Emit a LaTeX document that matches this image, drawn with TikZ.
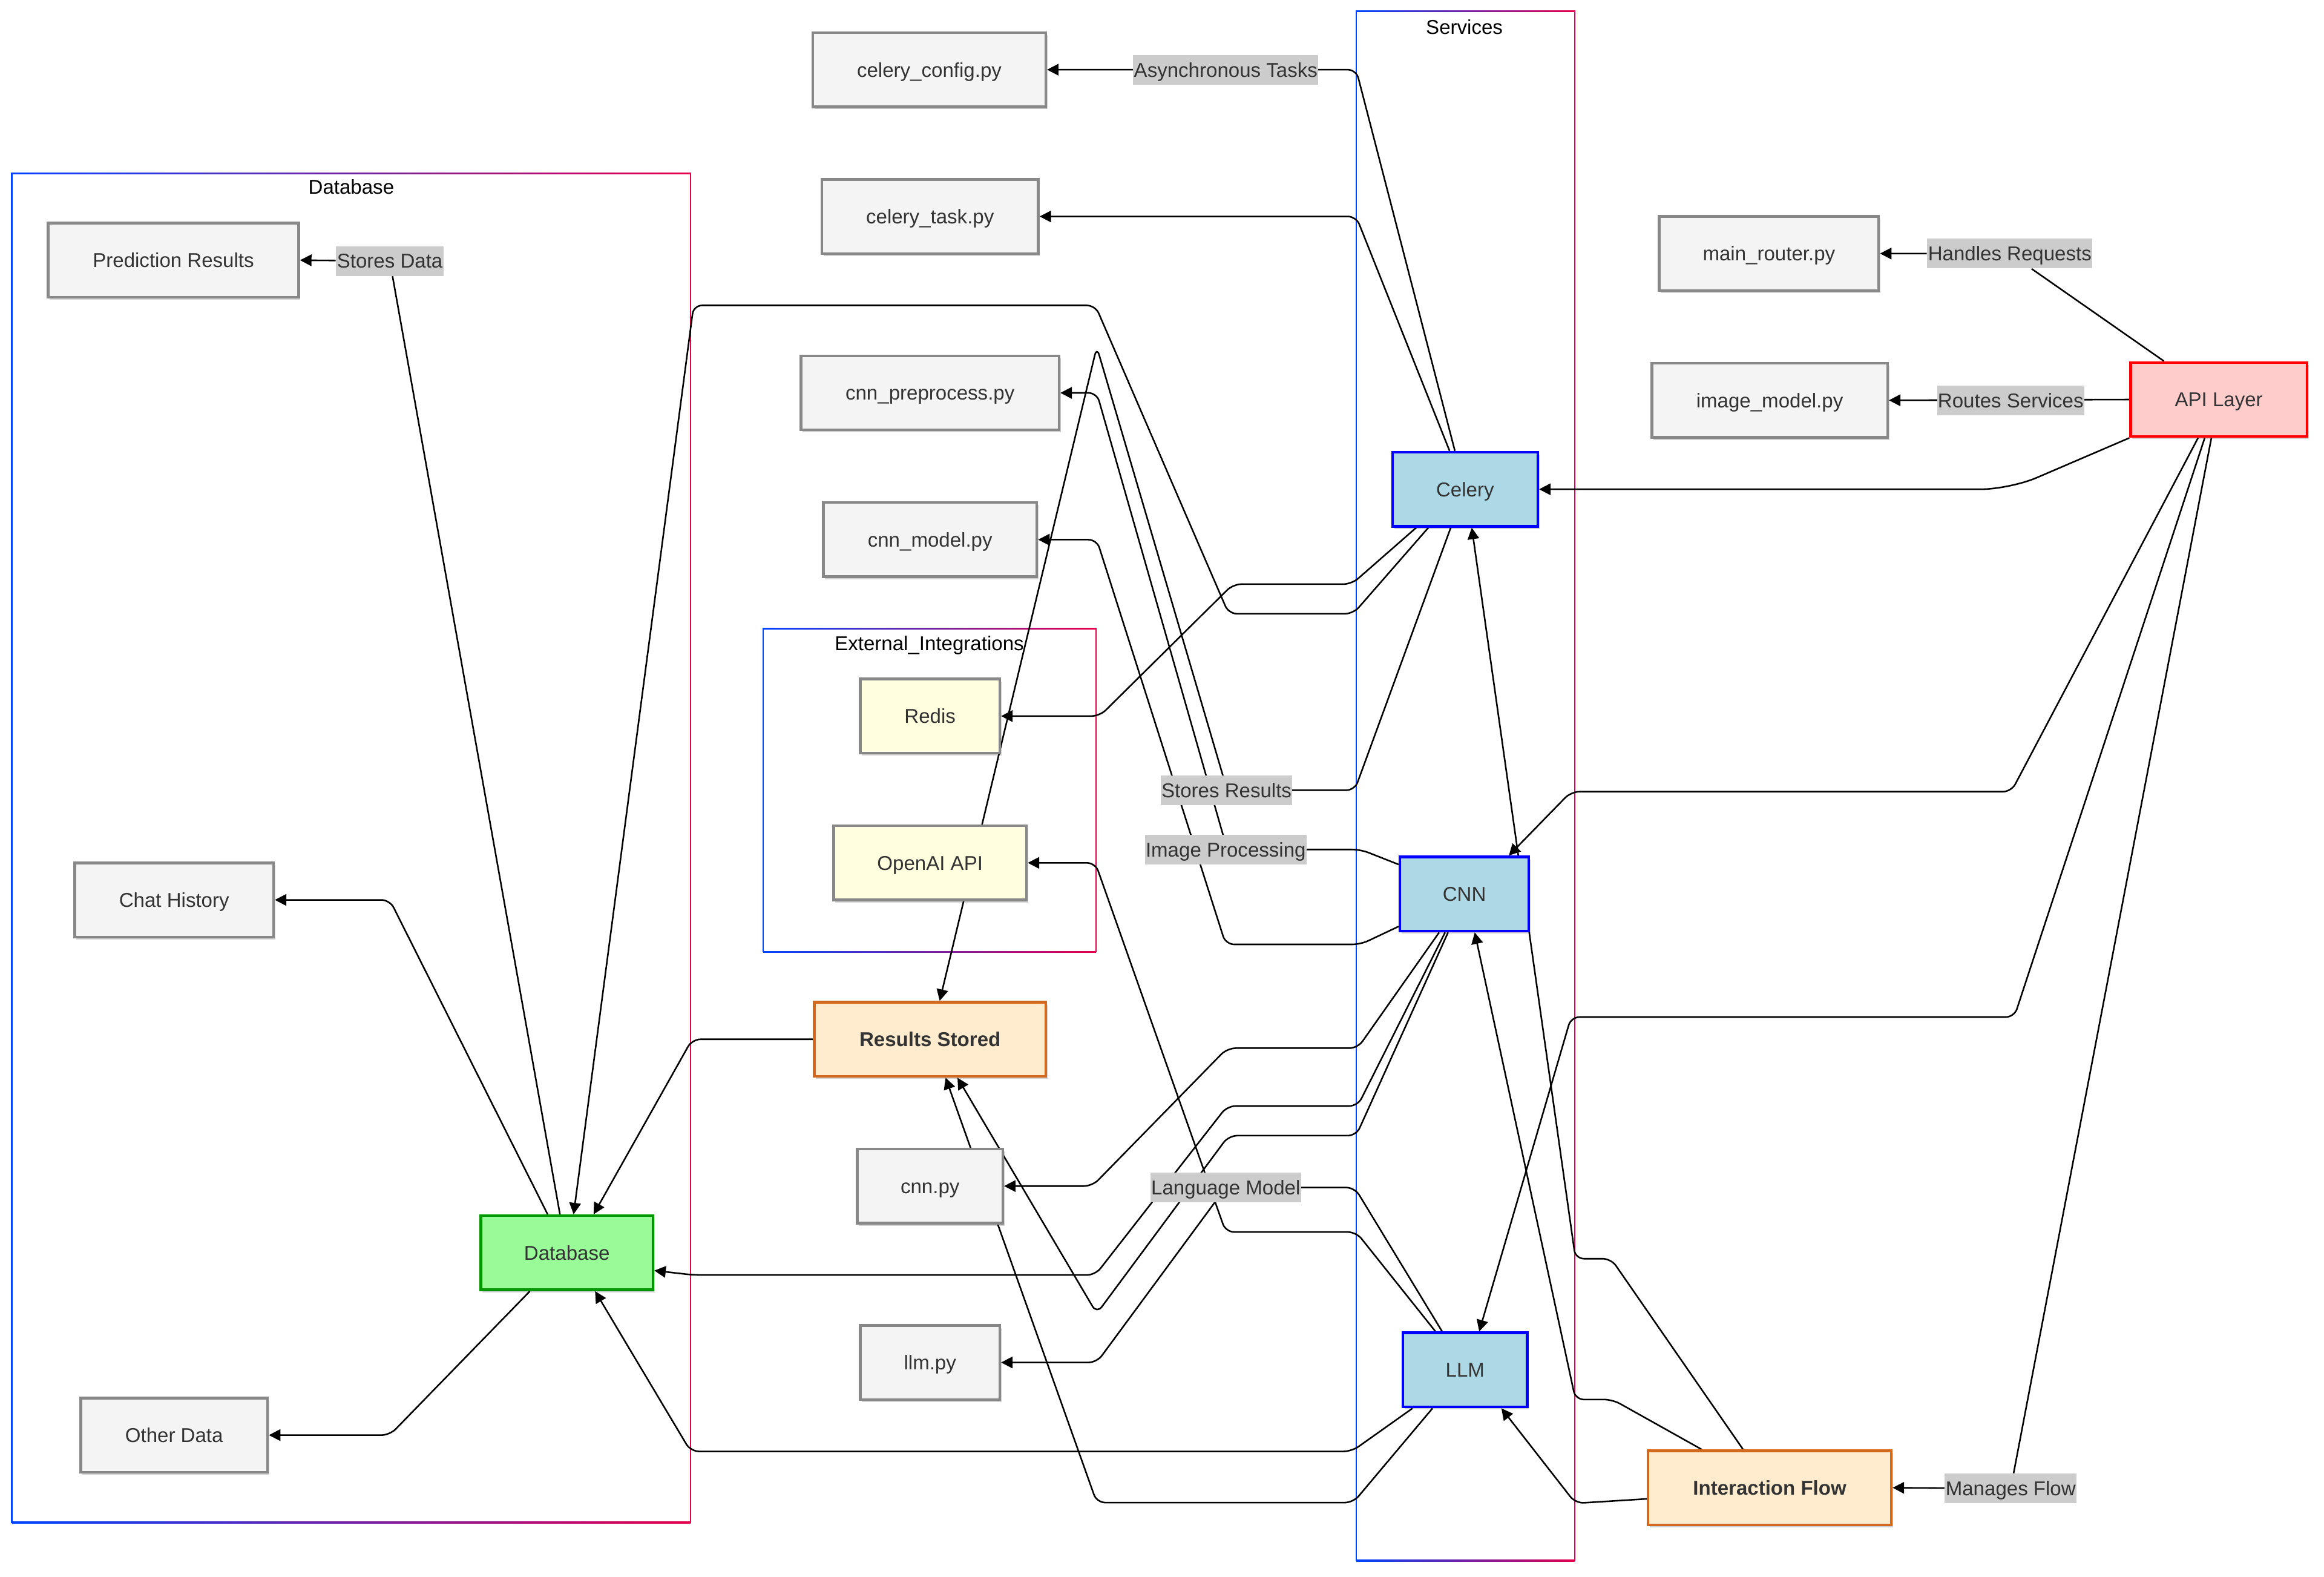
\documentclass[tikz,border=0pt]{standalone}
\usepackage{fontspec}
\setmainfont{Liberation Sans}
\usetikzlibrary{arrows.meta,calc,shadows}
\definecolor{txt}{HTML}{333333}
\definecolor{gfill}{HTML}{F4F4F4}
\definecolor{gline}{HTML}{888888}
\definecolor{yfill}{HTML}{FFFFE0}
\definecolor{bfill}{HTML}{ADD8E6}
\definecolor{bline}{HTML}{0000FF}
\definecolor{dbfill}{HTML}{98FB98}
\definecolor{dbline}{HTML}{009900}
\definecolor{rfill}{HTML}{FFCCCC}
\definecolor{rline}{HTML}{FF0000}
\definecolor{ofill}{HTML}{FFEBCD}
\definecolor{oline}{HTML}{D2691E}
\definecolor{lblfill}{HTML}{CCCCCC}
\definecolor{cblue}{HTML}{0044FF}
\definecolor{cred}{HTML}{E6004C}
\pgfdeclarelayer{bg}
\pgfdeclarelayer{edges}
\pgfsetlayers{bg,edges,main}
\newcommand{\clusterbox}[4]{%
  \shade[left color=cblue, right color=cred] (#1,#2-0.5) rectangle (#3,#2+0.5);
  \shade[left color=cblue, right color=cred] (#1,#4-0.5) rectangle (#3,#4+0.5);
  \fill[cblue] (#1-0.5,#2-0.5) rectangle (#1+0.5,#4+0.5);
  \fill[cred] (#3-0.5,#2-0.5) rectangle (#3+0.5,#4+0.5);
}
\begin{document}
\begin{tikzpicture}[x=0.025cm, y=-0.025cm,
  font=\fontsize{9.6}{11.5}\selectfont,
  nbase/.style={rectangle, line width=1.3pt, minimum height=1.25cm, inner sep=0pt, text=txt,
    text height=0.905em, text depth=0.212em,
    drop shadow={shadow xshift=0.8pt, shadow yshift=-1.2pt, opacity=0.18, fill=black}},
  gbox/.style={nbase, draw=gline, fill=gfill},
  ybox/.style={nbase, draw=gline, fill=yfill},
  sbox/.style={nbase, draw=bline, fill=bfill},
  dbbox/.style={nbase, draw=dbline, fill=dbfill},
  apibox/.style={nbase, draw=rline, fill=rfill},
  obox/.style={nbase, draw=oline, fill=ofill, font=\fontsize{9.6}{11.5}\selectfont\bfseries},
  elabel/.style={fill=lblfill, text=txt, inner xsep=0.4pt, inner ysep=0pt, minimum height=0.5cm,
    text height=0.905em, text depth=0.212em},
  ctitle/.style={text=black, inner sep=0pt, text height=0.905em, text depth=0.212em},
  conn/.style={draw=black, line width=0.75pt, rounded corners=4pt, -{Triangle[length=5.5pt,width=5.5pt]}},
]
\useasboundingbox (0,0) rectangle (1568,1063.3);

% ---------- nodes ----------
\node[gbox, minimum width=3.925cm] (cfg) at (627,47) {celery\_config.py};
\node[gbox, minimum width=3.65cm] (ctask) at (627.5,146) {celery\_task.py};
\node[gbox, minimum width=4.35cm] (cpre) at (627.5,265) {cnn\_preprocess.py};
\node[gbox, minimum width=3.6cm] (cmodel) at (627.5,364) {cnn\_model.py};
\node[ybox, minimum width=2.35cm] (redis) at (627.5,483) {Redis};
\node[ybox, minimum width=3.25cm] (openai) at (627.5,582) {OpenAI API};
\node[obox, minimum width=3.9cm] (rstored) at (627.5,701) {Results Stored};
\node[gbox, minimum width=2.45cm] (cnnpy) at (627.5,800) {cnn.py};
\node[gbox, minimum width=2.35cm] (llmpy) at (627.5,919) {llm.py};
\node[gbox, minimum width=4.225cm] (pred) at (117,175.5) {Prediction Results};
\node[gbox, minimum width=3.35cm] (chat) at (117.5,607) {Chat History};
\node[gbox, minimum width=3.15cm] (other) at (117.5,968) {Other Data};
\node[dbbox, minimum width=2.9cm] (db) at (382.5,845) {Database};
\node[sbox, minimum width=2.45cm] (celery) at (988.5,330) {Celery};
\node[sbox, minimum width=2.175cm] (cnn) at (988,603) {CNN};
\node[sbox, minimum width=2.1cm] (llm) at (988.5,924) {LLM};
\node[gbox, minimum width=3.7cm] (mrouter) at (1193.5,171) {main\_router.py};
\node[gbox, minimum width=3.975cm] (imodel) at (1194,270) {image\_model.py};
\node[apibox, minimum width=2.975cm] (api) at (1497,269.5) {API Layer};
\node[obox, minimum width=4.1cm] (iflow) at (1194,1003.5) {Interaction Flow};

% ---------- edge labels ----------
\node[elabel] (lasync) at (827,47) {Asynchronous Tasks};
\node[elabel] (lsdata) at (263,176) {Stores Data};
\node[elabel] (lhand) at (1356,171) {Handles Requests};
\node[elabel] (lroute) at (1356.6,270) {Routes Services};
\node[elabel] (lsres) at (827.5,533) {Stores Results};
\node[elabel] (limg) at (827,573) {Image Processing};
\node[elabel] (llang) at (827,801) {Language Model};
\node[elabel] (lmanage) at (1356.6,1004) {Manages Flow};

% ---------- cluster titles ----------
\node[ctitle] (tdb) at (237,126) {Database};
\node[ctitle] (tsv) at (988,18) {Services};
\node[ctitle] (tei) at (627,434) {External\_Integrations};

% ---------- clusters ----------
\begin{pgfonlayer}{bg}
  \fill[white] (0,0) rectangle (1568,1063.3);
  \clusterbox{8}{117}{466}{1027}
  \clusterbox{915}{7.6}{1062.5}{1052.7}
  \clusterbox{515}{424}{739.5}{642}
\end{pgfonlayer}

% ---------- connectors ----------
\begin{pgfonlayer}{edges}
  % Celery
  \draw[conn] ($(celery.north)+(-6.9,0)$) -- (915,47) -- (cfg.east);
  \draw[conn] ($(celery.north)+(-10.5,0)$) -- (915,146) -- (ctask.east);
  \draw[conn] ($(celery.south)+(-33,0)$) -- (912,394) -- (832,394) -- (742,483) -- (redis.east);
  \draw[conn] ($(celery.south)+(-24.8,0)$) -- (913,414) -- (829,414) -- (739,206) -- (468,206) -- ($(db.north)+(4.5,0)$);
  \draw[conn] ($(celery.south)+(-9.7,0)$) -- (914,533) -- (828,533) -- (740,234) -- ($(rstored.north)+(6.5,0)$);
  % CNN
  \draw[conn] ($(cnn.north west)+(0,6)$) -- (918,573) -- (828,573) -- (740,265) -- (cpre.east);
  \draw[conn] ($(cnn.south west)+(0,-4)$) -- (918,637) -- (827,637) -- (740,364) -- (cmodel.east);
  \draw[conn] ($(cnn.south)+(-17,0)$) -- (916,707) -- (828,707) -- (737,800) -- (cnnpy.east);
  \draw[conn] ($(cnn.south)+(-13,0)$) -- (916,746) -- (828,746) -- (739,860) -- (468,860) -- ($(db.east)+(0,12)$);
  \draw[conn] ($(cnn.south)+(-11,0)$) -- (915,766) -- (829,766) -- (740,886) -- ($(rstored.south)+(18.5,0)$);
  % LLM
  \draw[conn] ($(llm.south)+(-35.5,0)$) -- (912,979) -- (466,979) -- ($(db.south)+(19,0)$);
  \draw[conn] ($(llm.south)+(-22,0)$) -- (913,1013.5) -- (740,1013.5) -- ($(rstored.south)+(10.5,0)$);
  \draw[conn] ($(llm.north)+(-15.5,0)$) -- (914,801) -- (827,801) -- (740,919) -- (llmpy.east);
  \draw[conn] ($(llm.north)+(-20,0)$) -- (915,831) -- (827,831) -- (739,582) -- (openai.east);
  % API Layer
  \draw[conn] ($(api.north)+(-37,0)$) -- (lhand) -- (mrouter.east);
  \draw[conn] (api.west) -- (imodel.east);
  \draw[conn, rounded corners=14pt] (api.south west) -- (1356,330) -- (celery.east);
  \draw[conn] ($(api.south)+(-14,0)$) -- (1357,534) -- (1060,534) -- ($(cnn.north)+(30,0)$);
  \draw[conn] ($(api.south)+(-9.5,0)$) -- (1359,686) -- (1060,686) -- ($(llm.north)+(9.5,0)$);
  \draw[conn] ($(api.south)+(-5,0)$) -- (lmanage) -- (iflow.east);
  % Interaction Flow
  \draw[conn] ($(iflow.west)+(0,7.5)$) -- (1063,1014) -- ($(llm.south)+(24.5,0)$);
  \draw[conn] ($(iflow.north)+(-46,0)$) -- (1088,944) -- (1063,944) -- ($(cnn.south)+(7,0)$);
  \draw[conn] ($(iflow.north)+(-18,0)$) -- (1087,849) -- (1063,849) -- ($(celery.south)+(4.5,0)$);
  % Database
  \draw[conn] ($(db.north)+(-4.7,0)$) -- (lsdata) -- (pred.east);
  \draw[conn] ($(db.north)+(-13,0)$) -- (263,607) -- (chat.east);
  \draw[conn] ($(db.south)+(-25,0)$) -- (263,968) -- (other.east);
  % Results Stored
  \draw[conn] (rstored.west) -- (467,701) -- ($(db.north)+(18,0)$);
\end{pgfonlayer}
\end{tikzpicture}
\end{document}
